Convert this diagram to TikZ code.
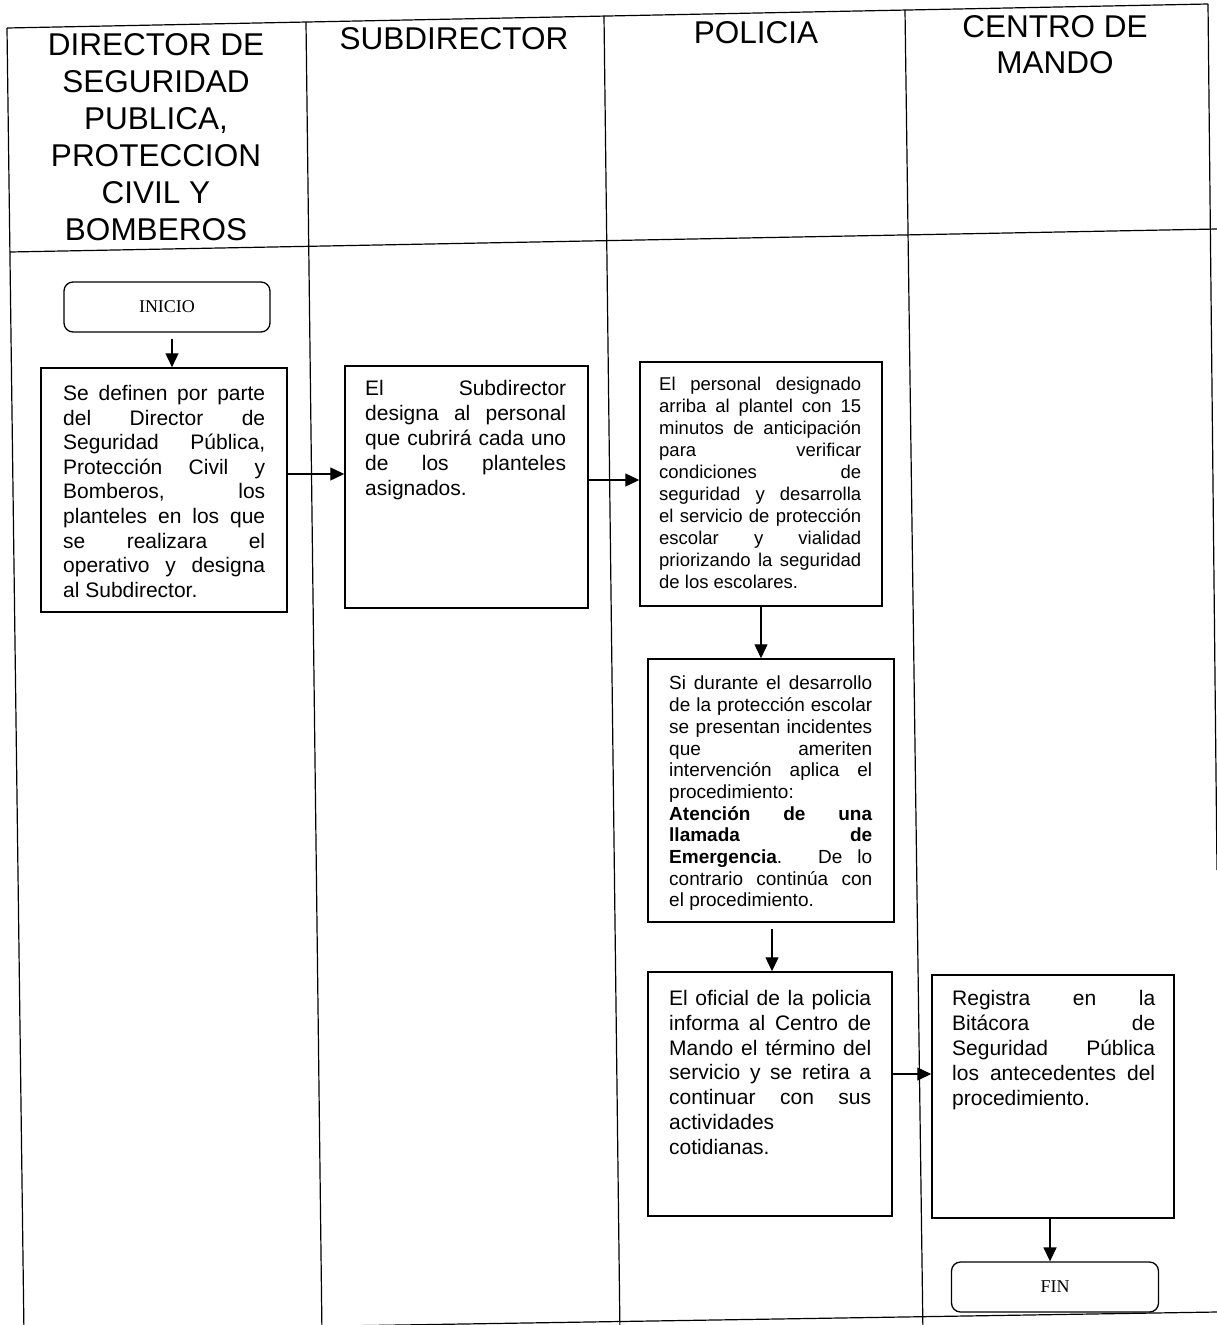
\documentclass[tikz,border=0pt]{standalone}
\usepackage{fontspec}
\setmainfont{Liberation Sans}
\newfontfamily\serifB{Liberation Serif}
\usetikzlibrary{arrows.meta,calc}
\tolerance=10000
\hbadness=10000
\hyphenpenalty=10000
\begin{document}
\begin{tikzpicture}[x=1pt,y=-1pt,
  grid/.style={line width=1.2pt},
  proc/.style={draw, line width=1.5pt, inner sep=0pt},
  term/.style={draw, line width=1.3pt, rounded corners=9pt, inner sep=0pt,
    font=\serifB\fontsize{18}{21}\selectfont},
  txt/.style={inner sep=0pt, anchor=north west},
  head/.style={inner sep=0pt, anchor=north, align=center,
    font=\fontsize{31.5}{37}\selectfont},
  arr/.style={line width=1.4pt, -{Triangle[length=14pt,width=13pt]}}]
\useasboundingbox (0,0) rectangle (1217,1325);
\clip (0,0) rectangle (1217,1325);

% swimlane grid
\draw[grid] (7,28) -- (1208,4);
\draw[grid] (10,252) -- (1217,229);
\draw[grid] (23,1331) -- (1217,1312);
\draw[grid] (7,28) -- (24,1335);
\draw[grid] (306,22) -- (322,1335);
\draw[grid] (604,16) -- (620,1335);
\draw[grid] (905,10) -- (923,1335);
\draw[grid] (1208,4) -- (1217,870);

% headers
\node[head] (h1) at (156,33) {DIRECTOR DE\\SEGURIDAD\\PUBLICA,\\PROTECCION\\CIVIL Y\\BOMBEROS};
\node[head] (h2) at (454,27) {SUBDIRECTOR};
\node[head] (h3) at (756,21) {POLICIA};
\node[head, font=\fontsize{31.5}{36}\selectfont] (h4) at (1055,15) {CENTRO DE\\MANDO};

% terminals
\node[term, minimum width=206pt, minimum height=50pt] (ini) at (167,307) {INICIO};
\node[term, minimum width=207pt, minimum height=50pt] (fin) at (1055,1287) {FIN};

% process boxes
\node[proc, minimum width=246pt, minimum height=244pt] (b1) at (164,490) {};
\node[txt] (t1) at (63,385) {\parbox[t]{202pt}{\fontsize{21}{24.6}\selectfont
Se definen por parte\linebreak del Director de\linebreak Seguridad Pública,\linebreak
Protección Civil y\linebreak Bomberos, los\linebreak planteles en los que\linebreak
se realizara el\linebreak operativo y designa\linebreak al Subdirector.}};

\node[proc, minimum width=243pt, minimum height=242pt] (b2) at (466.5,487) {};
\node[txt] (t2) at (365,380) {\parbox[t]{201pt}{\fontsize{21}{25}\selectfont
El Subdirector\linebreak designa al personal\linebreak que cubrirá cada uno\linebreak
de los planteles\linebreak asignados.}};

\node[proc, minimum width=242pt, minimum height=244pt] (b3) at (761,484) {};
\node[txt] (t3) at (659,377) {\parbox[t]{202pt}{\fontsize{18.5}{22}\selectfont
El personal designado\linebreak arriba al plantel con 15\linebreak minutos de anticipación\linebreak
para verificar\linebreak condiciones de\linebreak seguridad y desarrolla\linebreak
el servicio de protección\linebreak escolar y vialidad\linebreak priorizando la seguridad\linebreak
de los escolares.}};

\node[proc, minimum width=246pt, minimum height=263pt] (b4) at (771,790.5) {};
\node[txt] (t4) at (669,676) {\parbox[t]{203pt}{\fontsize{19}{21.7}\selectfont
Si durante el desarrollo\linebreak de la protección escolar\linebreak se presentan incidentes\linebreak
que ameriten\linebreak intervención aplica el\linebreak procedimiento:\linebreak
\textbf{Atención de una}\linebreak \textbf{llamada de}\linebreak
\textbf{Emergencia}. De lo\linebreak contrario continúa con\linebreak el procedimiento.}};

\node[proc, minimum width=244pt, minimum height=244pt] (b5) at (770,1094) {};
\node[txt] (t5) at (669,990) {\parbox[t]{202pt}{\fontsize{21}{24.8}\selectfont
El oficial de la policia\linebreak informa al Centro de\linebreak Mando el término del\linebreak
servicio y se retira a\linebreak continuar con sus\linebreak actividades\linebreak cotidianas.}};

\node[proc, minimum width=242pt, minimum height=243pt] (b6) at (1053,1096.5) {};
\node[txt] (t6) at (952,990) {\parbox[t]{203pt}{\fontsize{21}{25}\selectfont
Registra en la\linebreak Bitácora de\linebreak Seguridad Pública\linebreak
los antecedentes del\linebreak procedimiento.}};

% connectors
\draw[arr, shorten <=6pt] ([xshift=5pt]ini.south) -- ([xshift=5pt]ini.south |- b1.north);
\draw[arr] ([yshift=16pt]b1.east) -- ([yshift=16pt]b1.east -| b2.west);
\draw[arr] ([yshift=7pt]b2.east) -- ([yshift=7pt]b2.east -| b3.west);
\draw[arr] (b3.south) -- (b3.south |- b4.north);
\draw[arr, shorten <=6pt] ([xshift=1pt]b4.south) -- ([xshift=1pt]b4.south |- b5.north);
\draw[arr] ([yshift=20pt]b5.east) -- ([yshift=20pt]b5.east -| b6.west);
\draw[arr] ([xshift=-3pt]b6.south) -- ([xshift=-3pt]b6.south |- fin.north);
\end{tikzpicture}
\end{document}
